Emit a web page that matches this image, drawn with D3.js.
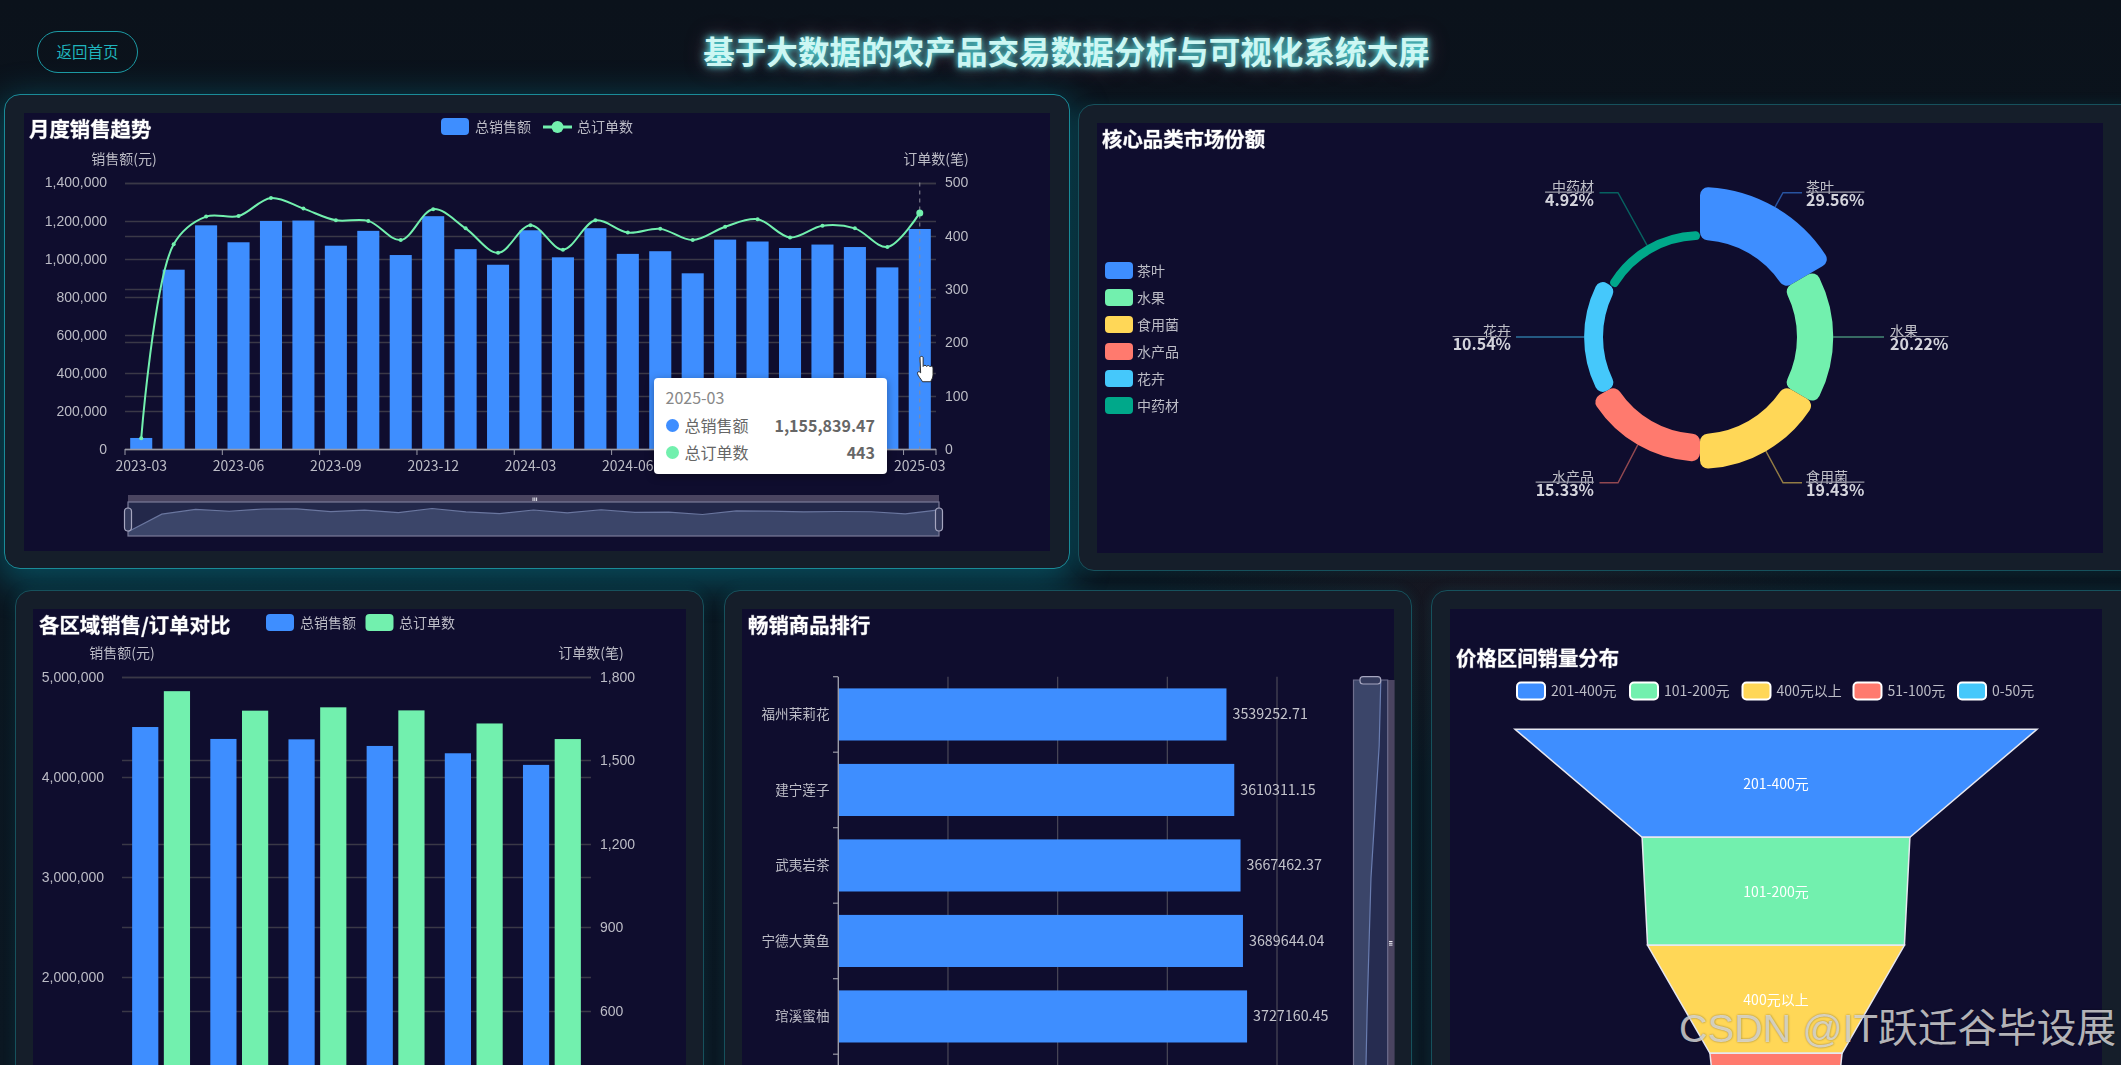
<!DOCTYPE html>
<html lang="zh"><head><meta charset="utf-8">
<script src="https://cdn.jsdelivr.net/npm/d3@7"></script>
<style>
html,body{margin:0;padding:0;width:2121px;height:1065px;overflow:hidden;background:#0a131d;font-family:"Noto Sans CJK SC","Noto Sans",sans-serif;}
#bg{position:absolute;inset:0;background:
 radial-gradient(ellipse 500px 260px at 1500px 600px,rgba(60,25,35,.28),transparent 70%),
 linear-gradient(180deg,#0b121b 0,#0a1620 50%,#0b1722 100%);}
.panel{position:absolute;box-sizing:border-box;background:#151e2a;border:1.5px solid #16515c;border-radius:16px;box-shadow:0 0 14px rgba(0,170,190,.12);}
.panel.hot{border-color:#1a8b98;box-shadow:0 10px 34px 6px rgba(0,170,195,.34);}
.inner{position:absolute;background:#0f0d2e;}
#title{position:absolute;left:6px;width:2121px;top:27px;text-align:center;font-size:31.6px;font-weight:700;line-height:46px;color:#cdf7f3;
 text-shadow:0 0 6px rgba(80,230,230,.95),0 0 12px rgba(80,230,230,.6),0 0 22px rgba(240,70,110,.38);}
#back{position:absolute;left:37px;top:31px;width:101px;height:42px;box-sizing:border-box;border:1.5px solid #1c9aa4;border-radius:21px;color:#1fb4bc;font-size:15.5px;line-height:39px;text-align:center;}
#chart{position:absolute;left:0;top:0;filter:blur(.3px);}
#tip{position:absolute;left:654px;top:378px;width:233px;height:96px;background:#fff;border-radius:4px;box-shadow:0 2px 8px rgba(0,0,0,.35);color:#666;font-size:16px;}
#mark{position:absolute;left:1679px;top:1001px;font-family:"Liberation Sans","Noto Sans CJK SC",sans-serif;font-size:39.7px;line-height:54px;color:rgba(228,228,228,.78);white-space:nowrap;text-shadow:0 0 2px rgba(0,0,0,.45);}
</style></head><body>
<div id="bg"></div>
<div id="back">返回首页</div>
<div id="title">基于大数据的农产品交易数据分析与可视化系统大屏</div>
<div class="panel hot" style="left:4px;top:94px;width:1066px;height:475px"></div>
<div class="inner" style="left:24px;top:113px;width:1026px;height:438px"></div>
<div class="panel" style="left:1078px;top:104px;width:1060px;height:467px"></div>
<div class="inner" style="left:1097px;top:123px;width:1006px;height:430px"></div>
<div class="panel" style="left:15px;top:590px;width:689px;height:520px"></div>
<div class="inner" style="left:33px;top:609px;width:653px;height:500px"></div>
<div class="panel" style="left:724px;top:590px;width:688px;height:520px"></div>
<div class="inner" style="left:742px;top:609px;width:652px;height:500px"></div>
<div class="panel" style="left:1431px;top:590px;width:710px;height:520px"></div>
<div class="inner" style="left:1450px;top:609px;width:652px;height:500px"></div>
<svg id="chart" width="2121" height="1065"></svg>
<div id="tip"></div>
<div id="mark">CSDN @IT跃迁谷毕设展</div>
<script>
// ---------- data ----------
const months = ["2023-03","2023-04","2023-05","2023-06","2023-07","2023-08","2023-09","2023-10","2023-11","2023-12","2024-01","2024-02","2024-03","2024-04","2024-05","2024-06","2024-07","2024-08","2024-09","2024-10","2024-11","2024-12","2025-01","2025-02","2025-03"];
const monthSales = [58000,942000,1175000,1086000,1198000,1200000,1068000,1146000,1019000,1223000,1050000,968000,1149000,1007000,1160000,1025000,1039000,923000,1100000,1090000,1056000,1074000,1061000,954000,1155839.47];
const monthOrders = [20,384,436,437,471,451,429,428,392,450,414,368,420,374,429,406,413,392,417,431,397,419,414,379,443];
const shareNames = ["茶叶","水果","食用菌","水产品","花卉","中药材"];
const shareValues = [29.56,20.22,19.43,15.33,10.54,4.92];
const regionIds = ["区域1","区域2","区域3","区域4","区域5","区域6"];
const regionSales = [4498000,4379000,4375000,4309000,4236000,4120000];
const regionOrders = [1748,1678,1690,1679,1632,1576];
const products = ["福州茉莉花","建宁莲子","武夷岩茶","宁德大黄鱼","琯溪蜜柚"];
const productSales = [3539252.71,3610311.15,3667462.37,3689644.04,3727160.45];
const productShadow = [100,94,79,64,57,50,45];
const priceNames = ["201-400元","101-200元","400元以上","51-100元","0-50元"];
const priceValues = [100,51.3,49.2,25.3,21];
const seriesNames = ["总销售额","总订单数"];
const C = {blue:"#3e8eff",green:"#72f0ae",yellow:"#ffd757",red:"#ff7a6e",cyan:"#45c8fb",teal:"#00a88a"};
const palette = [C.blue,C.green,C.yellow,C.red,C.cyan,C.teal];
const TXT="#bcbcc6", GRID="#3a3847", AX="#9a9aa6";

const svg = d3.select("#chart");
svg.append("defs").html('<clipPath id="pg"><rect width="2121" height="1065"/></clipPath>');
const root = svg.append("g").attr("clip-path","url(#pg)");
function text(g,x,y,s,o={}){
  return g.append("text").attr("x",x).attr("y",y).attr("dy","0.35em").text(s)
   .attr("fill",o.fill||TXT).attr("font-size",o.size||14).attr("font-weight",o.weight||400)
   .attr("text-anchor",o.anchor||"start");
}
function panelTitle(x,y,s){
  text(root,x,y,s,{fill:"#fff",size:20.4,weight:700}).attr("stroke","rgba(255,255,255,.45)").attr("stroke-width",.7);
}
function legRect(x,y,c,stroke){
  root.append("rect").attr("x",x).attr("y",y-8.5).attr("width",28).attr("height",17).attr("rx",4).attr("fill",c)
    .attr("stroke",stroke||"none").attr("stroke-width",stroke?2:0);
}
function hGrid(g,ticks,scale,x0,x1){
  g.selectAll(null).data(ticks).join("line").attr("x1",x0).attr("x2",x1)
   .attr("y1",d=>Math.round(scale(d))+.5).attr("y2",d=>Math.round(scale(d))+.5).attr("stroke",GRID).attr("stroke-width",1.5);
}
function valAxis(g,x,side,scale,ticks){
  const ax=(side==="l"?d3.axisLeft(scale):d3.axisRight(scale)).tickValues(ticks).tickFormat(d3.format(",")).tickSize(0).tickPadding(9);
  const a=g.append("g").attr("transform",`translate(${x},0)`).call(ax);
  a.select(".domain").remove();
  a.selectAll("text").attr("fill",TXT).attr("font-size",14).attr("font-family","inherit");
}

// ---------- monthly chart ----------
(function(){
  const g=root.append("g");
  panelTitle(29,130,"月度销售趋势");
  legRect(441,126.5,C.blue); text(g,475,127,seriesNames[0]);
  const x=d3.scaleBand().domain(months).range([125,936]).paddingInner(.32).paddingOuter(.16);
  const ys=d3.scaleLinear().domain([0,1400000]).range([449,182.5]);
  const yo=d3.scaleLinear().domain([0,500]).range([449,182.5]);
  const sTicks=d3.range(0,1400001,200000), oTicks=d3.range(0,501,100);
  hGrid(g,sTicks,ys,125,936); hGrid(g,oTicks,yo,125,936);
  g.selectAll(".mb").data(months).join("rect").attr("class","mb").attr("x",d=>x(d)).attr("width",x.bandwidth())
    .attr("y",(d,i)=>ys(monthSales[i])).attr("height",(d,i)=>449-ys(monthSales[i])).attr("fill",C.blue);
  valAxis(g,116,"l",ys,sTicks); valAxis(g,936,"r",yo,oTicks);
  text(g,124,159,"销售额(元)",{anchor:"middle"}); text(g,936,159,"订单数(笔)",{anchor:"middle"});
  const cx=d=>x(d)+x.bandwidth()/2;
  g.append("line").attr("x1",125).attr("x2",936).attr("y1",449.5).attr("y2",449.5).attr("stroke",AX).attr("stroke-width",1.5);
  const step=x.step();
  const tickIdx=months.map((d,i)=>i).filter(i=>i%3===0);
  g.selectAll(".mt").data(tickIdx.concat([25])).join("line").attr("class","mt")
   .attr("x1",i=>125+i*step).attr("x2",i=>125+i*step).attr("y1",449).attr("y2",455).attr("stroke",AX);
  g.selectAll(".ml").data(tickIdx).join("text").attr("class","ml").attr("x",i=>cx(months[i])).attr("y",466.5).attr("dy","0.35em")
   .attr("text-anchor","middle").attr("fill",TXT).attr("font-size",14).text(i=>months[i]);
  g.append("line").attr("x1",cx(months[24])).attr("x2",cx(months[24])).attr("y1",182.5).attr("y2",449).attr("stroke","#8a8a98").attr("stroke-dasharray","4 4");
  const pts=months.map((d,i)=>[cx(d),yo(monthOrders[i])]);
  g.append("path").attr("d",d3.line().curve(d3.curveCatmullRom.alpha(.5))(pts)).attr("fill","none").attr("stroke",C.green).attr("stroke-width",2);
  g.selectAll(".md").data(pts).join("circle").attr("class","md").attr("cx",d=>d[0]).attr("cy",d=>d[1]).attr("r",(d,i)=>i===24?3.5:2).attr("fill",C.green);
  g.append("line").attr("x1",543).attr("x2",572).attr("y1",127).attr("y2",127).attr("stroke",C.green).attr("stroke-width",3);
  g.append("circle").attr("cx",557.5).attr("cy",127).attr("r",6).attr("fill",C.green);
  text(g,577,127,seriesNames[1]);
  const sx0=128,sx1=939,st=502,sb=536;
  g.append("rect").attr("x",sx0).attr("y",495).attr("width",sx1-sx0).attr("height",7).attr("fill","#4a4460");
  g.append("rect").attr("x",sx0).attr("y",st).attr("width",sx1-sx0).attr("height",sb-st).attr("fill","#23284a");
  const mx=d3.scalePoint().domain(months).range([sx0,sx1]);
  const my=d3.scaleLinear().domain([0,1223000]).range([533,508.5]);
  const area=d3.area().x((d,i)=>mx(months[i])).y1(d=>my(d)).y0(sb);
  g.append("path").attr("d",area(monthSales)).attr("fill","#3b4569");
  g.append("path").attr("d",d3.line().x((d,i)=>mx(months[i])).y(d=>my(d))(monthSales)).attr("fill","none").attr("stroke","#6a769f").attr("stroke-width",1.2);
  g.append("rect").attr("x",sx0).attr("y",st).attr("width",sx1-sx0).attr("height",sb-st).attr("fill","none").attr("stroke","#7a7a98").attr("stroke-width",1.2);
  [sx0,sx1].forEach(v=>{
    g.append("rect").attr("x",v-3.5).attr("y",508).attr("width",7).attr("height",23).attr("rx",3.5).attr("fill","#343a5c").attr("stroke","#a6a6bf").attr("stroke-width",1.2);
  });
  [0,1.8,3.6].forEach(d=>g.append("rect").attr("x",532.5+d).attr("y",497.5).attr("width",1).attr("height",3.5).attr("fill","#e8e8f0"));
})();

// ---------- share donut ----------
(function(){
  const g=root.append("g");
  panelTitle(1102,140,"核心品类市场份额");
  shareNames.forEach((n,i)=>{ const y=270.5+27*i; legRect(1105,y,palette[i]); text(g,1137,y+.5,n); });
  const cx=1700,cy=337;
  const r=d3.scaleLinear().domain([0,d3.max(shareValues)]).range([97,150]);
  const gp=g.append("g").attr("transform",`translate(${cx},${cy})`);
  const pie=shareNames.map((n,i)=>({i,a0:i*Math.PI/3,a1:(i+1)*Math.PI/3,v:shareValues[i]}));
  gp.selectAll("path").data(pie).join("path")
    .attr("d",d=>d3.arc().innerRadius(97).outerRadius(r(d.v)).startAngle(d.a0).endAngle(d.a1).cornerRadius(8)())
    .attr("fill",d=>palette[d.i]);
  pie.forEach(d=>{
    const mid=(d.a0+d.a1)/2, R=r(d.v), sx=cx+Math.sin(mid)*R, sy=cy-Math.cos(mid)*R;
    const right=Math.sin(mid)>0, flat=Math.abs(Math.cos(mid))<.01;
    const ly = flat? cy : (Math.cos(mid)>0? 192.7:482.7);
    const ex = flat? (right?1884:1516) : (right?1802:1599.5);
    const kx = flat? (sx+ex)/2 : (right?1783:1618);
    g.append("path").attr("d",d3.line()([[sx,sy],[kx,ly],[ex,ly]])).attr("fill","none").attr("stroke",palette[d.i]).attr("stroke-opacity",.55).attr("stroke-width",1.4);
    const tx0 = flat? (right?1890:1511) : (right?1806:1594);
    const anchor= right?"start":"end";
    text(g,tx0,ly-6,shareNames[d.i],{anchor,fill:"#c0c0c8"});
    const val=text(g,tx0,ly+7.5,shareValues[d.i].toFixed(2)+"%",{anchor,fill:"#d4d4dc",size:16,weight:700});
    const w=val.node().getComputedTextLength();
    g.append("line").attr("x1",right?tx0:tx0-w).attr("x2",right?tx0+w:tx0).attr("y1",ly-.5).attr("y2",ly-.5).attr("stroke","#9a9aa6").attr("stroke-width",1.2);
  });
})();

// ---------- region chart ----------
(function(){
  const g=root.append("g");
  panelTitle(39,626,"各区域销售/订单对比");
  legRect(266,622.5,C.blue); text(g,300,623,seriesNames[0]);
  legRect(365.5,622.5,C.green); text(g,399,623,seriesNames[1]);
  const x=d3.scaleBand().domain(regionIds).range([122,591]);
  const ys=d3.scaleLinear().domain([0,5000000]).range([1177.8,676.7]);
  const yo=d3.scaleLinear().domain([0,1800]).range([1177.8,676.7]);
  const sT=d3.range(0,5000001,1000000), oT=d3.range(0,1801,300);
  hGrid(g,sT,ys,122,591); hGrid(g,oT,yo,122,591);
  const bw=26.2,gap=5.5;
  g.selectAll(".ra").data(regionIds).join("rect").attr("class","ra").attr("x",d=>x(d)+x.bandwidth()/2-bw-gap/2).attr("width",bw)
    .attr("y",(d,i)=>ys(regionSales[i])).attr("height",(d,i)=>1177.8-ys(regionSales[i])).attr("fill",C.blue);
  g.selectAll(".rb").data(regionIds).join("rect").attr("class","rb").attr("x",d=>x(d)+x.bandwidth()/2+gap/2).attr("width",bw)
    .attr("y",(d,i)=>yo(regionOrders[i])).attr("height",(d,i)=>1177.8-yo(regionOrders[i])).attr("fill",C.green);
  valAxis(g,122-9,"l",ys,sT.filter(v=>v>=2000000)); valAxis(g,591,"r",yo,oT.filter(v=>v>=600));
  text(g,122,653.5,"销售额(元)",{anchor:"middle"}); text(g,591,653.5,"订单数(笔)",{anchor:"middle"});
})();

// ---------- product ranking ----------
(function(){
  const g=root.append("g");
  panelTitle(748,626,"畅销商品排行");
  const x=d3.scaleLinear().domain([0,4000000]).range([838.3,1277]);
  const step=75.5;
  const y=d3.scaleBand().domain(products).range([676.7,676.7+step*products.length]).paddingInner(.31).paddingOuter(.155);
  g.selectAll(".vg").data(d3.range(1000000,4000001,1000000)).join("line").attr("class","vg").attr("x1",d=>x(d)).attr("x2",d=>x(d))
    .attr("y1",676.7).attr("y2",1065).attr("stroke","#4a4858").attr("stroke-width",1.2);
  g.selectAll(".pb").data(products).join("rect").attr("class","pb").attr("x",x(0)).attr("y",d=>y(d)).attr("height",y.bandwidth())
    .attr("width",(d,i)=>x(productSales[i])-x(0)).attr("fill",C.blue);
  g.selectAll(".pv").data(products).join("text").attr("class","pv").attr("x",(d,i)=>x(productSales[i])+6).attr("y",d=>y(d)+y.bandwidth()/2).attr("dy","0.35em")
    .attr("fill","#c4c4cc").attr("font-size",14.3).text((d,i)=>productSales[i].toFixed(2));
  g.selectAll(".pn").data(products).join("text").attr("class","pn").attr("x",829.5).attr("y",d=>y(d)+y.bandwidth()/2).attr("dy","0.35em")
    .attr("fill",TXT).attr("font-size",13.6).attr("text-anchor","end").text(d=>d);
  g.append("line").attr("x1",838.3).attr("x2",838.3).attr("y1",676.7).attr("y2",1065).attr("stroke",AX).attr("stroke-width",1.4);
  g.selectAll(".pt").data(d3.range(products.length+1)).join("line").attr("class","pt").attr("x1",833).attr("x2",838).attr("y1",i=>676.7+i*step).attr("y2",i=>676.7+i*step).attr("stroke",AX).attr("stroke-width",1.2);
  const sl=1353.5,sr=1387.7,top=680;
  g.append("rect").attr("x",sr).attr("y",top).attr("width",6.9).attr("height",385).attr("fill","#4a4460");
  g.append("rect").attr("x",sl).attr("y",top).attr("width",sr-sl).attr("height",385).attr("fill","#262c50");
  const py=d3.scalePoint().domain(d3.range(productShadow.length)).range([top,1076]);
  const pw=d3.scaleLinear().domain([0,100]).range([sl,1380.8]);
  g.append("path").attr("d",d3.area().x0(sl).x1(d=>pw(d)).y((d,i)=>py(i))(productShadow)).attr("fill","#3b4569");
  g.append("path").attr("d",d3.line().x(d=>pw(d)).y((d,i)=>py(i))(productShadow)).attr("fill","none").attr("stroke","#6a7db0").attr("stroke-width",1.2);
  g.append("path").attr("d",`M${sl},1065V${top}H${sr}V1065`).attr("fill","none").attr("stroke","#6f6f8e").attr("stroke-width",1.2);
  g.append("rect").attr("x",1360).attr("y",676.7).attr("width",20.7).attr("height",7.3).attr("rx",3).attr("fill","#343a5c").attr("stroke","#a6a6bf").attr("stroke-width",1.2);
  [0,1.8,3.6].forEach(d=>g.append("rect").attr("x",1389).attr("y",941+d).attr("width",3.5).attr("height",1).attr("fill","#e8e8f0"));
})();

// ---------- price funnel ----------
(function(){
  const g=root.append("g");
  panelTitle(1456,659,"价格区间销量分布");
  const legendX=[1517,1630,1742.5,1853.5,1958];
  priceNames.forEach((n,i)=>{ legRect(legendX[i],691,palette[i],"#fff"); text(g,legendX[i]+34,691.5,n); });
  const w=d3.scaleLinear().domain([0,100]).range([0,522]);
  const cx=1776, y=d3.scaleBand().domain(priceNames).range([729.3,729.3+108*5]);
  const rows=priceNames.map((n,i)=>{
    const a=w(priceValues[i]), b=i<priceNames.length-1?w(priceValues[i+1]):w(priceValues[i])*.8;
    return {n,i,a,b,t:y(n),h:y.bandwidth()};
  });
  g.selectAll(".fn").data(rows).join("path").attr("class","fn")
    .attr("d",d=>d3.line()([[cx-d.a/2,d.t],[cx+d.a/2,d.t],[cx+d.b/2,d.t+d.h],[cx-d.b/2,d.t+d.h]])+"Z")
    .attr("fill",d=>palette[d.i]).attr("stroke","#e8e8f0").attr("stroke-width",1.5);
  g.selectAll(".fl").data(rows.filter(d=>d.t+d.h/2<1065)).join("text").attr("class","fl").attr("x",cx).attr("y",d=>d.t+d.h/2+.5).attr("dy","0.35em").attr("text-anchor","middle").attr("fill","#fff").attr("font-size",14).text(d=>d.n);
})();

// ---------- tooltip and cursor ----------
const tipData=[["总销售额","1,155,839.47",C.blue],["总订单数","443",C.green]];
const tip=d3.select("#tip");
tip.append("div").text(months[24]).style("position","absolute").style("left","11.5px").style("top","7px").style("color","#888").style("line-height","24px");
tipData.forEach((r,i)=>{
  const top=46+27.3*i-11;
  const row=tip.append("div").style("position","absolute").style("left","0").style("right","0").style("top",top+"px").style("height","24px").style("line-height","24px");
  row.append("span").style("position","absolute").style("left","12px").style("top","5.5px").style("width","13px").style("height","13px").style("border-radius","50%").style("background",r[2]);
  row.append("span").style("position","absolute").style("left","30.5px").text(r[0]);
  row.append("span").style("position","absolute").style("right","12px").style("font-weight","700").text(r[1]);
});
root.append("path").attr("transform","translate(917.5,356) scale(1.25,1.05)")
 .attr("d","M2,1.5 C2,0 4.5,0 4.5,1.5 L4.5,10 C5,8.5 7,8.5 7.3,10 C7.6,8.7 9.6,8.7 10,10.3 C10.4,9.3 12.4,9.5 12.4,11.3 L12.4,18 C12.4,21 11,23 10.5,24.5 L4,24.5 C3,22 0,18.5 0,16.5 C0,14.5 1.5,14.5 2.5,16 Z")
 .attr("fill","#fff").attr("stroke","#222").attr("stroke-width",.8);
</script>
</body></html>
